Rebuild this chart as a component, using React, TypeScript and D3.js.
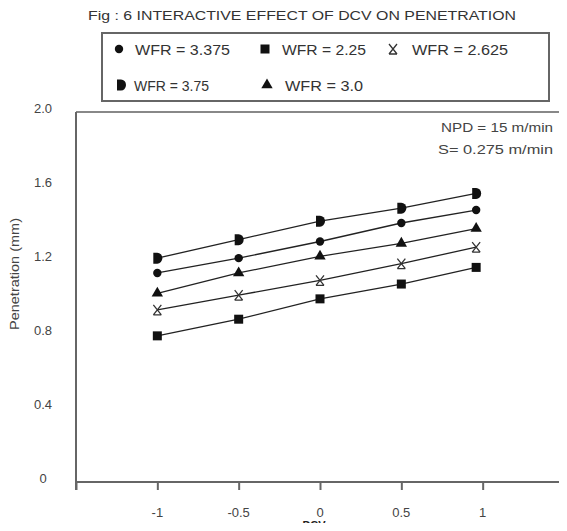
import React, { useRef, useEffect } from 'react';
import * as d3 from 'd3';

const dcv = [-1, -0.5, 0, 0.5, 0.96];
const wfr375 = [1.21, 1.31, 1.41, 1.48, 1.56];
const wfr3375 = [1.13, 1.21, 1.3, 1.4, 1.47];
const wfr30 = [1.02, 1.13, 1.22, 1.29, 1.37];
const wfr2625 = [0.93, 1.01, 1.09, 1.18, 1.27];
const wfr225 = [0.79, 0.88, 0.99, 1.07, 1.16];
const yTicks = [0, 0.4, 0.8, 1.2, 1.6, 2.0];
const xTicks = [-1, -0.5, 0, 0.5, 1];

const series = [
  { name: 'WFR = 3.375', values: wfr3375, marker: 'circle' },
  { name: 'WFR = 2.25', values: wfr225, marker: 'square' },
  { name: 'WFR = 2.625', values: wfr2625, marker: 'x' },
  { name: 'WFR = 3.75', values: wfr375, marker: 'half' },
  { name: 'WFR = 3.0', values: wfr30, marker: 'triangle' },
];

const W = 567;
const H = 531;
const m = { left: 76, right: 564, top: 112, bottom: 482 };

// draw a marker centred at 0,0
const drawMarker = (g: any, kind: string) => {
  if (kind === 'circle') {
    g.append('circle').attr('r', 4.2).attr('fill', '#111');
  } else if (kind === 'square') {
    g.append('rect').attr('x', -4.5).attr('y', -4.5).attr('width', 9).attr('height', 9).attr('fill', '#111');
  } else if (kind === 'triangle') {
    g.append('path').attr('d', d3.symbol().type(d3.symbolTriangle).size(56)()).attr('fill', '#111');
  } else if (kind === 'half') {
    g.append('path').attr('d', 'M-4,-5.5 L0,-5.5 A5,5.5 0 0 1 0,5.5 L-4,5.5 Z').attr('fill', '#111');
  } else {
    g.append('path')
      .attr('d', 'M-4,-5 L4,5 M4,-5 L-4,5 M-4,5 L4,5')
      .attr('stroke', '#333')
      .attr('stroke-width', 1.3)
      .attr('fill', 'none');
  }
};

const App = () => {
  const svgRef = useRef<SVGSVGElement>(null);

  useEffect(() => {
    const svg = d3.select(svgRef.current);
    svg.selectAll('*').remove();

    const x = d3.scaleLinear().domain([-1.5, 1.5]).range([m.left, m.right]);
    const y = d3.scaleLinear().domain([0, 2]).range([m.bottom, m.top]);

    svg.append('rect').attr('width', W).attr('height', H).attr('fill', '#fff');

    // title
    svg.append('text')
      .attr('x', 88).attr('y', 20)
      .attr('textLength', 428).attr('lengthAdjust', 'spacingAndGlyphs')
      .attr('font-size', 13).attr('fill', '#333')
      .text('Fig : 6  INTERACTIVE EFFECT OF DCV ON PENETRATION');

    // legend
    svg.append('rect')
      .attr('x', 102).attr('y', 33).attr('width', 447).attr('height', 68)
      .attr('fill', '#fff').attr('stroke', '#666').attr('stroke-width', 2);
    const legendPos = [
      { mx: 119, tx: 135, ty: 50, w: 95 },
      { mx: 265, tx: 282, ty: 50, w: 84 },
      { mx: 393, tx: 412, ty: 50, w: 96 },
      { mx: 121, tx: 134, ty: 86, w: 75 },
      { mx: 267, tx: 285, ty: 86, w: 78 },
    ];
    series.forEach((s, i) => {
      const p = legendPos[i];
      drawMarker(svg.append('g').attr('transform', `translate(${p.mx},${p.ty - 1})`), s.marker);
      svg.append('text')
        .attr('x', p.tx).attr('y', p.ty + 5)
        .attr('textLength', p.w).attr('lengthAdjust', 'spacingAndGlyphs')
        .attr('font-size', 14).attr('fill', '#333')
        .text(s.name);
    });

    // plot frame
    svg.append('path')
      .attr('d', `M${m.left},${m.top} H${m.right} V${m.bottom}`)
      .attr('fill', 'none').attr('stroke', '#888').attr('stroke-width', 2);
    svg.append('path')
      .attr('d', `M${m.left},${m.top} V${m.bottom + 8} M${m.left},${m.bottom} H${m.right}`)
      .attr('fill', 'none').attr('stroke', '#666').attr('stroke-width', 2);

    // x axis
    const xAxis = svg.append('g').attr('transform', `translate(0,${m.bottom})`)
      .call(d3.axisBottom(x).tickValues(d3.range(-1.5, 1.51, 0.5)).tickSize(8).tickFormat(() => ''));
    xAxis.select('.domain').remove();
    xAxis.selectAll('line').attr('stroke', '#666').attr('stroke-width', 2);

    svg.selectAll('.xlab').data(xTicks).join('text')
      .attr('class', 'xlab')
      .attr('x', (d) => x(d)).attr('y', 517)
      .attr('text-anchor', 'middle').attr('font-size', 13).attr('fill', '#444')
      .attr('font-family', 'Liberation Sans Narrow, Liberation Sans, sans-serif')
      .text((d) => String(d));

    svg.selectAll('.ylab').data(yTicks).join('text')
      .attr('class', 'ylab')
      .attr('x', 43).attr('y', (d) => y(d) + 1)
      .attr('text-anchor', 'middle').attr('font-size', 13).attr('fill', '#444')
      .attr('font-family', 'Liberation Sans Narrow, Liberation Sans, sans-serif')
      .text((d) => (d === 0 ? '0' : d.toFixed(1)));

    svg.append('text')
      .attr('transform', 'translate(19,274) rotate(-90)')
      .attr('text-anchor', 'middle').attr('font-size', 12).attr('fill', '#444')
      .attr('textLength', 112).attr('lengthAdjust', 'spacingAndGlyphs')
      .text('Penetration (mm)');

    svg.append('text')
      .attr('x', 314).attr('y', 529)
      .attr('text-anchor', 'middle').attr('font-size', 11).attr('font-weight', 'bold').attr('fill', '#222')
      .text('DCV');

    // annotation
    svg.append('text')
      .attr('x', 553).attr('y', 132).attr('text-anchor', 'end')
      .attr('font-size', 12).attr('fill', '#444')
      .attr('textLength', 112).attr('lengthAdjust', 'spacingAndGlyphs')
      .text('NPD = 15 m/min');
    svg.append('text')
      .attr('x', 553).attr('y', 154).attr('text-anchor', 'end')
      .attr('font-size', 12).attr('fill', '#444')
      .attr('textLength', 115).attr('lengthAdjust', 'spacingAndGlyphs')
      .text('S= 0.275 m/min');

    // series
    const ln = d3.line<number>().x((_, i) => x(dcv[i])).y((d) => y(d));
    series.forEach((s) => {
      svg.append('path')
        .attr('d', ln(s.values))
        .attr('fill', 'none').attr('stroke', '#222').attr('stroke-width', 1.3);
      s.values.forEach((v, i) => {
        drawMarker(svg.append('g').attr('transform', `translate(${x(dcv[i])},${y(v)})`), s.marker);
      });
    });
  }, []);

  return (
    <svg ref={svgRef} width={W} height={H} style={{ display: 'block', fontFamily: 'Liberation Sans, Arial, sans-serif', margin: '-8px' }} />
  );
};

export default App;
